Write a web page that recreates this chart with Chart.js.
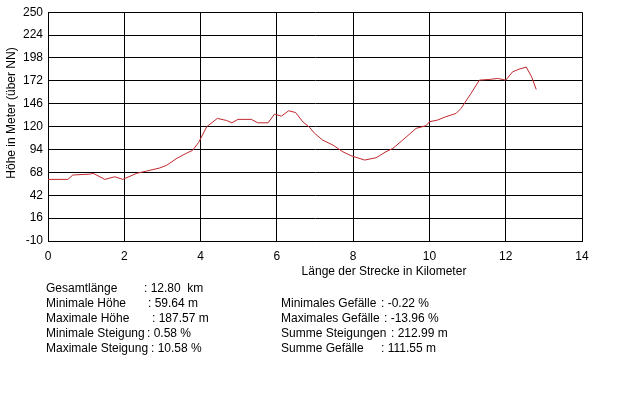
<!DOCTYPE html>
<html>
<head>
<meta charset="utf-8">
<script src="https://cdn.jsdelivr.net/npm/chart.js@4/dist/chart.umd.min.js"></script>
<style>
    body { margin: 0; background: #fff; }
    canvas { display: block; }
</style>
</head>
<body>
<canvas id="profil" width="640" height="394"></canvas>
<script>
    // Streckenprofil: Kilometer / Hoehe
    var km = [0, 0.52, 0.65, 1.1, 1.18, 1.49, 1.75, 1.96, 2.33, 2.59, 2.93, 3.11, 3.38, 3.64, 3.79, 3.95,
        4.16, 4.44, 4.68, 4.82, 4.98, 5.33, 5.5, 5.77, 5.94, 6.12, 6.31, 6.49, 6.68, 6.86, 6.99, 7.2,
        7.47, 7.73, 7.95, 8.3, 8.6, 8.86, 9.04, 9.3, 9.65, 9.91, 10.0, 10.21, 10.43, 10.7, 10.83, 11.09,
        11.31, 11.57, 11.79, 12.0, 12.18, 12.35, 12.54, 12.68, 12.8];
    var hoehe = [60, 60, 65, 66, 67, 60, 63, 60, 67, 69.5, 73, 76, 84, 90, 93, 102,
        119.8, 129.3, 127, 124.3, 128.2, 128.2, 124.3, 124.3, 134.2, 131.9, 138, 136, 125.5, 119, 112.3, 104.7,
        99, 91.4, 86.8, 82, 84.6, 91.4, 95.2, 104.7, 118, 121, 125.5, 127.4, 131.2, 135, 140.7, 157.7,
        172.8, 173.6, 174.7, 172.8, 182.2, 185.3, 187.6, 176.5, 162.2];
    var yTicks = [-10, 16, 42, 68, 94, 120, 146, 172, 198, 224, 250];
    var xTicks = [0, 2, 4, 6, 8, 10, 12, 14];

    var xTitel = 'Länge der Strecke in Kilometer';
    var yTitel = 'Höhe in Meter (über NN)';

    var statLinks = ['Gesamtlänge', 'Minimale Höhe', 'Maximale Höhe', 'Minimale Steigung', 'Maximale Steigung'];
    var statLinksWert = [': 12.80  km', ': 59.64 m', ': 187.57 m', ': 0.58 %', ': 10.58 %'];
    var statRechts = ['Minimales Gefälle', 'Maximales Gefälle', 'Summe Steigungen', 'Summe Gefälle'];
    var statRechtsWert = [': -0.22 %', ': -13.96 %', ': 212.99 m', ': 111.55 m'];

    var punkte = km.map(function (k, i) {
        return {x: k, y: hoehe[i]};
    });

    var schrift = '12px "Liberation Sans", Arial, sans-serif';

    var textPlugin = {
        id: 'texte',
        afterDraw: function (chart) {
            var c = chart.ctx;
            c.save();
            c.fillStyle = '#000';
            c.font = schrift;
            c.textBaseline = 'middle';

            c.textAlign = 'center';
            c.fillText(xTitel, 384, 272);

            c.save();
            c.translate(12, 113);
            c.rotate(-Math.PI / 2);
            c.fillText(yTitel, 0, 0);
            c.restore();

            c.textAlign = 'left';
            var linksDoppelpunkt = [144, 148, 152, 147, 151];
            for (var i = 0; i < statLinks.length; i++) {
                c.fillText(statLinks[i], 46, 289 + i * 15);
                c.fillText(statLinksWert[i], linksDoppelpunkt[i], 289 + i * 15);
            }
            var rechtsDoppelpunkt = [381, 384, 391, 381];
            for (var j = 0; j < statRechts.length; j++) {
                c.fillText(statRechts[j], 281, 304 + j * 15);
                c.fillText(statRechtsWert[j], rechtsDoppelpunkt[j], 304 + j * 15);
            }
            c.restore();
        }
    };

    var hintergrund = {
        id: 'hintergrund',
        beforeDraw: function (chart) {
            var c = chart.ctx;
            c.save();
            c.fillStyle = '#fff';
            c.fillRect(0, 0, chart.width, chart.height);
            c.restore();
        }
    };

    var ctx = document.getElementById('profil');
    var profilChart = new Chart(ctx, {
        type: 'scatter',
        data: {
            datasets: [{
                data: punkte,
                showLine: true,
                borderColor: '#c0282d',
                borderWidth: 1,
                pointRadius: 0,
                fill: false,
                tension: 0
            }]
        },
        options: {
            responsive: false,
            animation: false,
            layout: {
                padding: {left: 0, top: 12, right: 58, bottom: 123}
            },
            plugins: {
                legend: {display: false},
                tooltip: {enabled: false}
            },
            scales: {
                x: {
                    type: 'linear',
                    min: 0,
                    max: 14,
                    afterBuildTicks: function (scale) {
                        scale.ticks = xTicks.map(function (v) { return {value: v}; });
                    },
                    afterFit: function (scale) {
                        scale.height = 30;
                    },
                    grid: {color: '#000', lineWidth: 1, drawTicks: false},
                    border: {color: '#000', width: 1},
                    ticks: {
                        color: '#000',
                        padding: 8,
                        maxRotation: 0,
                        font: {family: '"Liberation Sans", Arial, sans-serif', size: 12}
                    }
                },
                y: {
                    min: -10,
                    max: 250,
                    afterBuildTicks: function (scale) {
                        scale.ticks = yTicks.map(function (v) { return {value: v}; });
                    },
                    afterFit: function (scale) {
                        scale.width = 48;
                    },
                    grid: {color: '#000', lineWidth: 1, drawTicks: false},
                    border: {color: '#000', width: 1},
                    ticks: {
                        color: '#000',
                        padding: 5,
                        font: {family: '"Liberation Sans", Arial, sans-serif', size: 12}
                    }
                }
            }
        },
        plugins: [hintergrund, textPlugin]
    });
</script>
</body>
</html>
